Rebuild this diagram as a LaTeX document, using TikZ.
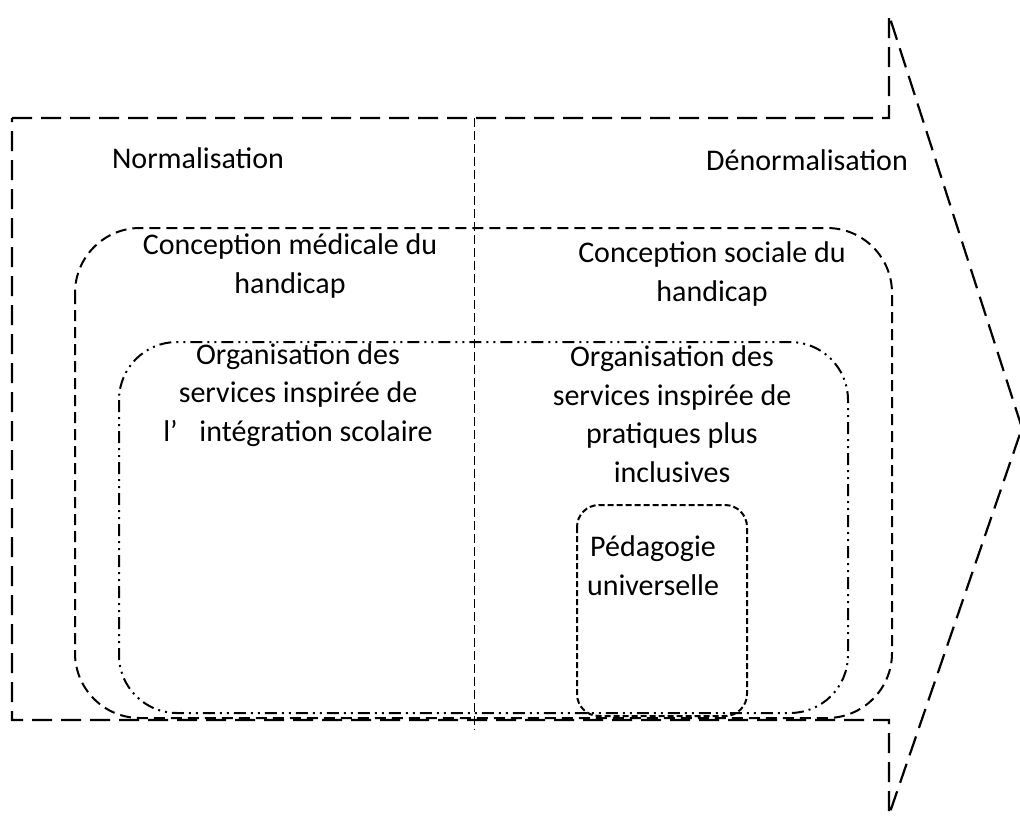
\documentclass[tikz,border=0pt]{standalone}
\usepackage{amsmath,amssymb}
\usepackage{fontspec}
\usepackage{tikz}
\usepackage{xcolor}
\setmainfont{Carlito}

\begin{document}
\begin{tikzpicture}[x=1pt,y=-1pt,
    lbl/.style={inner sep=0pt,anchor=base,align=center,font=\fontsize{30}{38.5}\selectfont},
    arrowline/.style={line width=2.2pt,dash pattern=on 20pt off 9pt},
    divline/.style={line width=1pt,dash pattern=on 9pt off 4pt},
    outerbox/.style={line width=2pt,dash pattern=on 11pt off 6pt,rounded corners=65pt},
    innerbox/.style={line width=2pt,dash pattern=on 12pt off 5pt on 2pt off 5pt on 2pt off 5pt,rounded corners=58pt},
    pedabox/.style={line width=2pt,dash pattern=on 6pt off 3pt,rounded corners=22pt}]
    \useasboundingbox (0,0) rectangle (1020,820);

            % draw arrow
	    \draw[arrowline] (12,118) -- (889,118) -- (889,15) -- (1022,428)
	        -- (889,815) -- (889,720) -- (12,720) -- cycle;
	    \draw[divline] (474,118) -- (474,730);

            % draw frames
	    \draw[outerbox] (75,228) rectangle (892,718);
	    \draw[innerbox] (119,342) rectangle (848,713);
	    \draw[pedabox] (577,505) rectangle (747,716);

            % draw labels (anchor = baseline of the last line)
	    \node[lbl] (norm) at (198,168) {Normalisation};
	    \node[lbl] (denorm) at (807,170) {Dénormalisation};
	    \node[lbl] (medical) at (290,293) {Conception médicale du\\handicap};
	    \node[lbl] (social) at (712,301) {Conception sociale du\\handicap};
	    \node[lbl] (orgscol) at (298,441) {Organisation des\\services inspirée de\\l’\enspace\ intégration scolaire};
	    \node[lbl] (orgincl) at (672,482) {Organisation des\\services inspirée de\\pratiques plus\\inclusives};
	    \node[lbl] (peda) at (653,595) {Pédagogie\\universelle};
        \end{tikzpicture}
\end{document}
